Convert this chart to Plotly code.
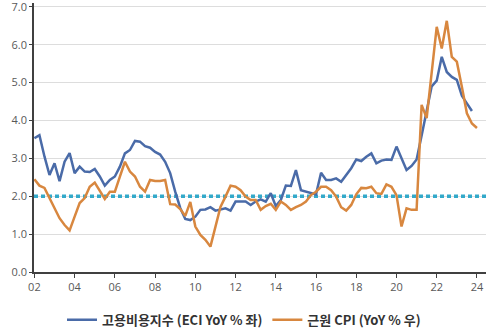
import plotly.graph_objects as go

# Quarterly observations starting 2002 Q1
start_year = 2002
eci = [3.53, 3.61, 3.05, 2.56, 2.87, 2.40, 2.91, 3.14, 2.61, 2.78, 2.65, 2.64, 2.72, 2.52, 2.28, 2.43,
       2.52, 2.78, 3.13, 3.22, 3.46, 3.44, 3.32, 3.28, 3.17, 3.10, 2.91, 2.61, 2.12, 1.69, 1.40, 1.37,
       1.46, 1.64, 1.65, 1.71, 1.62, 1.64, 1.68, 1.62, 1.86, 1.86, 1.86, 1.77, 1.86, 1.92, 1.86, 2.08,
       1.74, 1.90, 2.28, 2.27, 2.69, 2.16, 2.12, 2.08, 2.05, 2.62, 2.43, 2.43, 2.47, 2.38, 2.56, 2.74,
       2.97, 2.93, 3.04, 3.13, 2.87, 2.94, 2.97, 2.96, 3.31, 3.00, 2.69, 2.80, 2.97, 3.60, 4.30, 4.90,
       5.05, 5.68, 5.28, 5.15, 5.07, 4.65, 4.45, 4.25]
core_cpi = [2.45, 2.28, 2.22, 1.95, 1.69, 1.42, 1.24, 1.10, 1.46, 1.82, 1.95, 2.25, 2.36, 2.16, 1.93, 2.12,
            2.12, 2.52, 2.91, 2.65, 2.52, 2.25, 2.12, 2.43, 2.40, 2.40, 2.43, 1.79, 1.78, 1.66, 1.48, 1.85,
            1.20, 0.98, 0.85, 0.67, 1.20, 1.72, 1.99, 2.28, 2.25, 2.16, 1.99, 1.90, 1.90, 1.64, 1.74, 1.80,
            1.64, 1.86, 1.77, 1.64, 1.71, 1.77, 1.86, 2.03, 2.12, 2.25, 2.25, 2.16, 1.99, 1.71, 1.62, 1.77,
            2.05, 2.22, 2.21, 2.25, 2.08, 2.06, 2.31, 2.25, 2.03, 1.20, 1.68, 1.64, 1.64, 4.41, 4.06, 5.30,
            6.47, 5.90, 6.63, 5.68, 5.55, 4.89, 4.19, 3.92, 3.80]
target = 2.0
tick_years = [2002, 2004, 2006, 2008, 2010, 2012, 2014, 2016, 2018, 2020, 2022, 2024]
tick_labels = ["02", "04", "06", "08", "10", "12", "14", "16", "18", "20", "22", "24"]
y_ticks = [0, 1, 2, 3, 4, 5, 6, 7]
eci_name = "고용비용지수 (ECI YoY % 좌)"
cpi_name = "근원 CPI (YoY % 우)"

x_eci = [start_year + i / 4 for i in range(len(eci))]
x_cpi = [start_year + i / 4 for i in range(len(core_cpi))]

x_min, x_max = 2001.98, 2024.45

fig = go.Figure()
fig.add_trace(go.Scatter(x=[x_min, x_max + 0.2], y=[target, target], mode="lines",
                         line=dict(color="#33A9CA", width=3.5, dash="4px,3px"),
                         showlegend=False, cliponaxis=False))
fig.add_trace(go.Scatter(x=x_eci, y=eci, mode="lines", name=eci_name,
                         line=dict(color="#4A6BA8", width=2.5)))
fig.add_trace(go.Scatter(x=x_cpi, y=core_cpi, mode="lines", name=cpi_name,
                         line=dict(color="#D8873F", width=2.5)))

fig.update_layout(
    width=488, height=331,
    margin=dict(l=34, r=2, t=3, b=59, autoexpand=False),
    paper_bgcolor="white", plot_bgcolor="white",
    font=dict(family="Open Sans, Noto Sans CJK KR", size=11, color="#595959"),
    legend=dict(orientation="h", x=0.5, xanchor="center", xref="container",
                y=0.034, yanchor="middle", yref="container",
                font=dict(family="Noto Sans CJK KR", size=13, color="#333333", weight="bold"),
                itemwidth=30, tracegroupgap=0),
    xaxis=dict(range=[x_min, x_max], tickvals=tick_years, ticktext=tick_labels,
               showgrid=False, zeroline=False, showline=True, linecolor="#404040", linewidth=1.5,
               ticks="outside", ticklen=4, tickcolor="#404040",
               tickfont=dict(size=11, color="#595959")),
    yaxis=dict(range=[0, 7.1], tickvals=y_ticks, tickformat=".1f", ticklabeloverflow="allow",
               showgrid=True, gridcolor="#DDDDDD", gridwidth=1, zeroline=False,
               showline=True, linecolor="#404040", linewidth=1.5,
               ticks="outside", ticklen=3, tickcolor="#404040",
               tickfont=dict(size=11, color="#595959")),
)

fig.write_html("out.html")
